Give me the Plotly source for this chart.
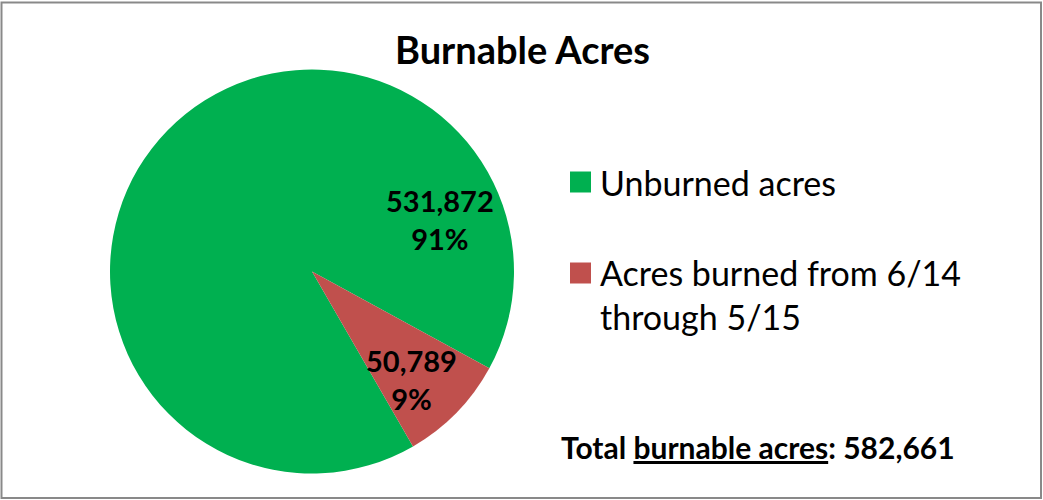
import plotly.graph_objects as go

# ---- data ----
labels = ["Unburned acres", "Acres burned from 6/14<br>through 5/15"]
values = [531872, 50789]
colors = ["#00B050", "#C0504D"]
title_text = "Burnable Acres"
total_acres = sum(values)

W, H = 1043, 500
FONT = "Lato"

def px(x):
    return x / W

def py(y):
    return 1 - y / H

fig = go.Figure()
fig.add_trace(go.Pie(
    labels=labels,
    values=values,
    marker=dict(colors=colors, line=dict(width=0)),
    sort=False,
    direction="clockwise",
    rotation=150,
    textinfo="none",
    hoverinfo="label+value+percent",
    domain=dict(x=[px(110), px(514)], y=[py(473.5), py(69.5)]),
    showlegend=False,
))

pcts = [round(v / total_acres * 100) for v in values]
label_pos = [(440, 220), (411, 379)]
annotations = []
for v, p, (lx, ly) in zip(values, pcts, label_pos):
    annotations.append(dict(
        x=px(lx), y=py(ly), xref="paper", yref="paper",
        text=f"<b>{v:,}<br>{p}%</b>", showarrow=False,
        font=dict(family=FONT, size=29, color="#000000"),
        xanchor="center", yanchor="middle", align="center",
    ))

# title
annotations.append(dict(
    x=px(522), y=py(49), xref="paper", yref="paper",
    text=f"<b>{title_text}</b>", showarrow=False,
    font=dict(family=FONT, size=38, color="#000000"),
    xanchor="center", yanchor="middle",
))

# manual legend
shapes = []
legend_rows = [(182, 182), (273, 294)]  # (square center y, text center y)
for lab, col, (sy, ty) in zip(labels, colors, legend_rows):
    shapes.append(dict(
        type="rect", xref="paper", yref="paper",
        x0=px(570), x1=px(591), y0=py(sy + 10.5), y1=py(sy - 10.5),
        fillcolor=col, line=dict(width=0),
    ))
    annotations.append(dict(
        x=px(598), y=py(ty), xref="paper", yref="paper",
        text=lab, showarrow=False,
        font=dict(family=FONT, size=34, color="#000000"),
        xanchor="left", yanchor="middle", align="left",
    ))

# total note
annotations.append(dict(
    x=px(559), y=py(447), xref="paper", yref="paper",
    text=f"<b>Total <u>burnable acres</u>: {total_acres:,}</b>", showarrow=False,
    font=dict(family=FONT, size=30, color="#000000"),
    xanchor="left", yanchor="middle",
))

# chart border
shapes.append(dict(
    type="rect", xref="paper", yref="paper",
    x0=px(1.5), x1=px(1041), y0=py(498), y1=py(2.5),
    line=dict(color="#898989", width=2), fillcolor="rgba(0,0,0,0)",
))

fig.update_layout(
    width=W, height=H,
    margin=dict(l=0, r=0, t=0, b=0),
    paper_bgcolor="#FFFFFF",
    plot_bgcolor="#FFFFFF",
    annotations=annotations,
    shapes=shapes,
    font=dict(family=FONT),
)

fig.write_html(
    "out.html",
    config={"displayModeBar": False},
    post_script="document.body.style.margin='0';document.body.style.padding='0';document.body.style.overflow='hidden';",
)
